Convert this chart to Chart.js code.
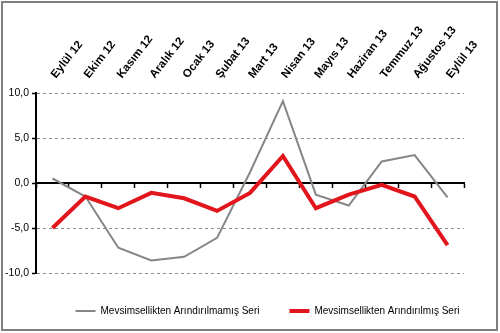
<!DOCTYPE html>
<html>
<head>
<meta charset="utf-8">
<script src="https://cdn.jsdelivr.net/npm/chart.js@4/dist/chart.umd.min.js"></script>
<style>
  html, body { margin: 0; padding: 0; background: #fff; }
  #wrap { width: 500px; height: 333px; position: relative; }
</style>
</head>
<body>
<div id="wrap"><canvas id="c" width="500" height="333"></canvas></div>
<script>
// Monthly change series, Sept 2012 – Sept 2013
const months = ['Eylül 12', 'Ekim 12', 'Kasım 12', 'Aralık 12', 'Ocak 13', 'Şubat 13', 'Mart 13',
                'Nisan 13', 'Mayıs 13', 'Haziran 13', 'Temmuz 13', 'Ağustos 13', 'Eylül 13'];
const rawSeries      = [0.5, -1.5, -7.2, -8.6, -8.2, -6.1, 1.2, 9.1, -1.3, -2.5, 2.4, 3.1, -1.6];
const adjustedSeries = [-5.0, -1.5, -2.8, -1.1, -1.7, -3.1, -1.1, 3.0, -2.8, -1.3, -0.2, -1.5, -6.9];
const yTicks = [-10, -5, 0, 5, 10];
const seriesNames = ['Mevsimsellikten Arındırılmamış Seri', 'Mevsimsellikten Arındırılmış Seri'];

const FONT = '"Liberation Sans", Arial, sans-serif';

// outer frame around the whole figure; legend row spans from the axis line to the frame edge
const framePlugin = {
  id: 'frame',
  afterLayout(chart) {
    const lg = chart.legend;
    if (lg) {
      lg.left = 35;
      lg.right = chart.width;
      lg.top += 3;
      lg.bottom += 3;
    }
  },
  afterDraw(chart) {
    const ctx = chart.ctx;
    ctx.save();
    ctx.strokeStyle = '#7f7f7f';
    ctx.lineWidth = 2;
    ctx.strokeRect(2, 2, chart.width - 5, chart.height - 5);
    ctx.restore();
  }
};

new Chart(document.getElementById('c'), {
  type: 'line',
  data: {
    labels: months,
    datasets: [
      {
        label: seriesNames[0],
        data: rawSeries,
        borderColor: '#868686',
        backgroundColor: '#868686',
        borderWidth: 2,
        pointRadius: 0,
        tension: 0,
        order: 1
      },
      {
        label: seriesNames[1],
        data: adjustedSeries,
        borderColor: '#e2141c',
        backgroundColor: '#e2141c',
        borderWidth: 4,
        pointRadius: 0,
        tension: 0,
        order: 0
      }
    ]
  },
  options: {
    responsive: false,
    devicePixelRatio: 1,
    animation: false,
    layout: { padding: { left: 0, right: 36, top: 0, bottom: 10 } },
    plugins: {
      tooltip: { enabled: false },
      legend: {
        position: 'bottom',
        labels: {
          usePointStyle: true,
          pointStyle: 'line',
          pointStyleWidth: 20,
          padding: 30,
          color: '#000',
          font: { family: FONT, size: 10 },
          sort: (a, b) => a.datasetIndex - b.datasetIndex
        }
      }
    },
    scales: {
      x: {
        type: 'category',
        position: 'top',
        offset: true,
        grid: { display: false },
        border: { display: false },
        ticks: {
          autoSkip: false,
          minRotation: 52,
          maxRotation: 52,
          padding: 4,
          labelOffset: 12,
          color: '#000',
          font: { family: FONT, size: 11.5, weight: 'bold' }
        },
        afterFit(s) { s.height = 93; s.paddingLeft = 0; s.paddingRight = 0; }
      },
      x2: {
        type: 'category',
        axis: 'x',
        labels: months,
        position: { y: 0 },
        offset: true,
        grid: {
          display: true,
          drawOnChartArea: false,
          drawTicks: true,
          offset: true,
          tickLength: 4,
          tickWidth: 1.5,
          tickColor: '#000'
        },
        border: { display: true, color: '#000', width: 2 },
        ticks: { display: false }
      },
      y: {
        position: 'left',
        min: -10,
        max: 10,
        afterBuildTicks(s) { s.ticks = yTicks.map(v => ({ value: v })); },
        ticks: {
          padding: 3,
          color: '#000',
          font: { family: FONT, size: 10.5 },
          callback: v => Number(v).toFixed(1).replace('.', ',')
        },
        grid: {
          color: c => (c.tick && c.tick.value === 0) ? 'rgba(0,0,0,0)' : '#8c8c8c',
          lineWidth: 1,
          tickColor: '#000',
          tickLength: 4,
          tickWidth: 1.5,
          tickBorderDash: []
        },
        border: { display: true, color: '#000', width: 2, dash: [3, 3] },
        afterFit(s) { s.width = 36; }
      }
    }
  },
  plugins: [framePlugin]
});
</script>
</body>
</html>
